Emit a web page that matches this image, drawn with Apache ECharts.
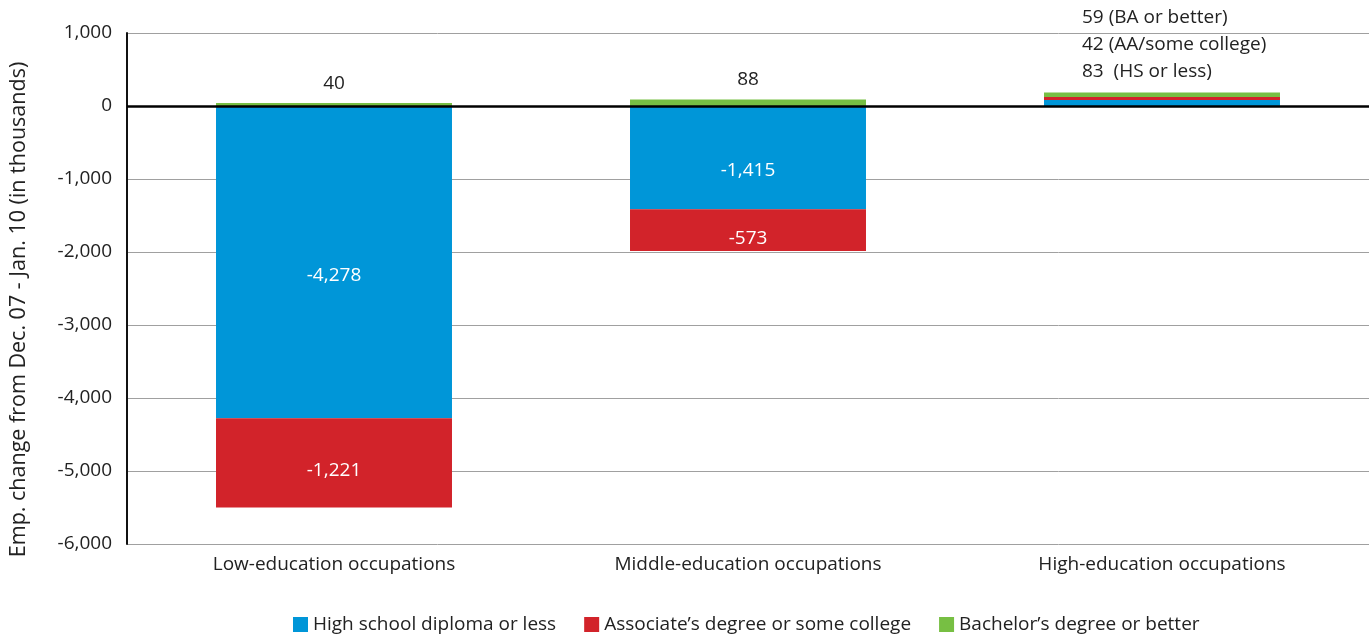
<!DOCTYPE html>
<html><head><meta charset="utf-8">
<script src="https://cdn.jsdelivr.net/npm/echarts@6/dist/echarts.min.js"></script>
<style>html,body{margin:0;padding:0;background:#fff}#c{width:1369px;height:637px}</style>
</head><body><div id="c"></div>
<script>
const categories = ['Low-education occupations','Middle-education occupations','High-education occupations'];
const hsOrLess = [-4278, -1415, 83];
const aaSomeCollege = [-1221, -573, 42];
const baOrBetter = [40, 88, 59];
const seriesNames = ['High school diploma or less','Associate\u2019s degree or some college','Bachelor\u2019s degree or better'];
const yTicks = {min:-6000, max:1000, interval:1000};

const FONT = '"Open Sans", "Noto Sans", sans-serif';
const FS = 19;
const fmt = v => (v < 0 ? '-' : '') + Math.abs(v).toLocaleString('en-US');
const colors = ['#0096d8','#d2232a','#77bf43'];

const chart = echarts.init(document.getElementById('c'));
const innerLabel = (dy) => ({show:true, position:'inside', color:'#fff', fontSize:FS, fontFamily:FONT, offset:[0,dy],
  formatter: p => p.value < 0 ? fmt(p.value) : ''});

chart.setOption({
  animation:false,
  color: colors,
  textStyle:{fontFamily:FONT},
  grid:{left:127, right:0, top:33, bottom:93, containLabel:false},
  legend:{bottom:-2, left:288, itemWidth:15, itemHeight:15, itemGap:28, icon:'rect',
    textStyle:{fontSize:FS, color:'#222', fontFamily:FONT}, data:seriesNames},
  xAxis:{type:'category', data:categories, axisLine:{show:false}, axisTick:{show:false},
    axisLabel:{fontSize:FS, color:'#222', margin:11, fontFamily:FONT}},
  yAxis:{type:'value', min:yTicks.min, max:yTicks.max, interval:yTicks.interval,
    name:'Emp. change from Dec. 07 - Jan. 10 (in thousands)', nameLocation:'middle', nameGap:97,
    nameTextStyle:{fontSize:21.5, color:'#222', fontFamily:FONT, padding:[0,42,0,0]},
    axisLine:{show:true, lineStyle:{color:'#111', width:2}}, axisTick:{show:false},
    axisLabel:{fontSize:FS, color:'#222', margin:15, fontFamily:FONT, formatter: v => fmt(v)},
    splitLine:{lineStyle:{color:'#a0a0a0', width:1}}},
  series:[
    {name:seriesNames[0], type:'bar', stack:'s', data:hsOrLess, barWidth:'57%', label:innerLabel(13),
      markLine:{silent:true, symbol:'none', label:{show:false}, lineStyle:{color:'#000', width:2.5, type:'solid'}, data:[{yAxis:0}]}},
    {name:seriesNames[1], type:'bar', stack:'s', data:aaSomeCollege, barWidth:'57%', label:innerLabel(8)},
    {name:seriesNames[2], type:'bar', stack:'s', barWidth:'57%',
      data: baOrBetter.map((v,i) => {
        if (i === 2) {
          return {value:v, label:{show:true, position:'top', align:'left', offset:[-80,-2], color:'#222', fontSize:FS, lineHeight:27, fontFamily:FONT,
            formatter: () => baOrBetter[2] + ' (BA or better)\n' + aaSomeCollege[2] + ' (AA/some college)\n' + hsOrLess[2] + '  (HS or less)'}};
        }
        return {value:v, label:{show:true, position:'top', color:'#222', fontSize:FS, offset:[0,-5], fontFamily:FONT, formatter: p => fmt(p.value)}};
      })}
  ]
});
</script></body></html>
